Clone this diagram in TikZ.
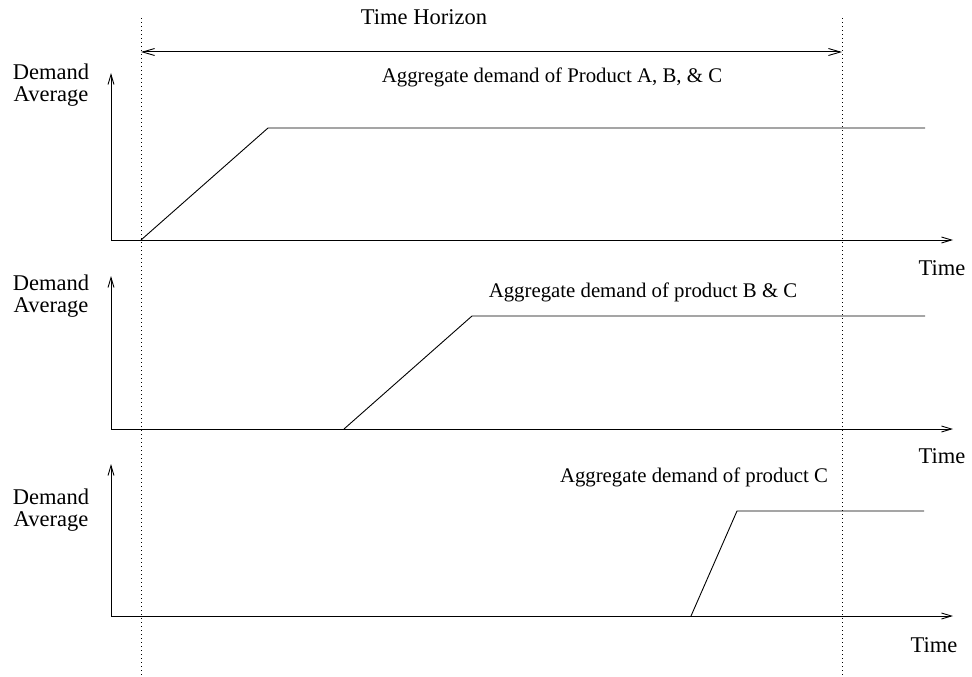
\documentclass[tikz,border=0pt]{standalone}
\usepackage{fontspec}
\setmainfont{Liberation Serif}
\usetikzlibrary{arrows.meta}
\tikzset{
  guide/.style={line width=0.9pt, dash pattern=on 0.9pt off 3.1pt},
  axis/.style={line width=1pt, -{Straight Barb[length=10pt,width=6pt,line width=0.9pt]}},
  span/.style={line width=1pt, {Straight Barb[length=12pt,width=7pt,line width=0.9pt]}-{Straight Barb[length=12pt,width=7pt,line width=0.9pt]}},
  demand/.style={line width=0.9pt},
  big/.style={font=\fontsize{22.5}{26}\selectfont, anchor=base},
  lbl/.style={font=\fontsize{20.8}{24}\selectfont, anchor=base}
}
\begin{document}
\begin{tikzpicture}[x=1pt,y=-1pt,every node/.style={inner sep=0pt}]
\useasboundingbox (0,0) rectangle (972,677);

% time horizon
\coordinate (tl) at (141,18);
\coordinate (tlb) at (141,675);
\coordinate (tr) at (842,18);
\coordinate (trb) at (842,675);
\draw[guide] (tl) -- (tlb);
\draw[guide] (tr) -- (trb);
\coordinate (hzl) at (141,52);
\coordinate (hzr) at (842,52);
\draw[span] (hzl) -- (hzr);
\node[big] (hz) at (424,25) {Time Horizon};

% product A, B, C
\coordinate (o1) at (111,240);
\coordinate (y1) at (111,73);
\coordinate (x1) at (953,240);
\draw[axis] (o1) -- (y1);
\draw[axis] (o1) -- (x1);
\coordinate (a1) at (141,240);
\coordinate (b1) at (268,128);
\coordinate (c1) at (925,128);
\draw[demand] (a1) -- (b1) -- (c1);
\node[lbl] (lab1) at (552,82) {Aggregate demand of Product A, B, \& C};
\node[big] (dem1) at (51,80) {Demand};
\node[big] (avg1) at (51,102) {Average};
\node[big] (time1) at (942,275) {Time};

% product B, C
\coordinate (o2) at (111,429);
\coordinate (y2) at (111,276);
\coordinate (x2) at (953,429);
\draw[axis] (o2) -- (y2);
\draw[axis] (o2) -- (x2);
\coordinate (a2) at (344,429);
\coordinate (b2) at (472,316);
\coordinate (c2) at (925,316);
\draw[demand] (a2) -- (b2) -- (c2);
\node[lbl] (lab2) at (643,297) {Aggregate demand of product B \& C};
\node[big] (dem2) at (51,290) {Demand};
\node[big] (avg2) at (51,312) {Average};
\node[big] (time2) at (942,463) {Time};

% product C
\coordinate (o3) at (111,616);
\coordinate (y3) at (111,464);
\coordinate (x3) at (953,616);
\draw[axis] (o3) -- (y3);
\draw[axis] (o3) -- (x3);
\coordinate (a3) at (691,616);
\coordinate (b3) at (737,511);
\coordinate (c3) at (924,511);
\draw[demand] (a3) -- (b3) -- (c3);
\node[lbl] (lab3) at (694,482) {Aggregate demand of product C};
\node[big] (dem3) at (51,504) {Demand};
\node[big] (avg3) at (51,526) {Average};
\node[big] (time3) at (934,652) {Time};

\end{tikzpicture}
\end{document}
